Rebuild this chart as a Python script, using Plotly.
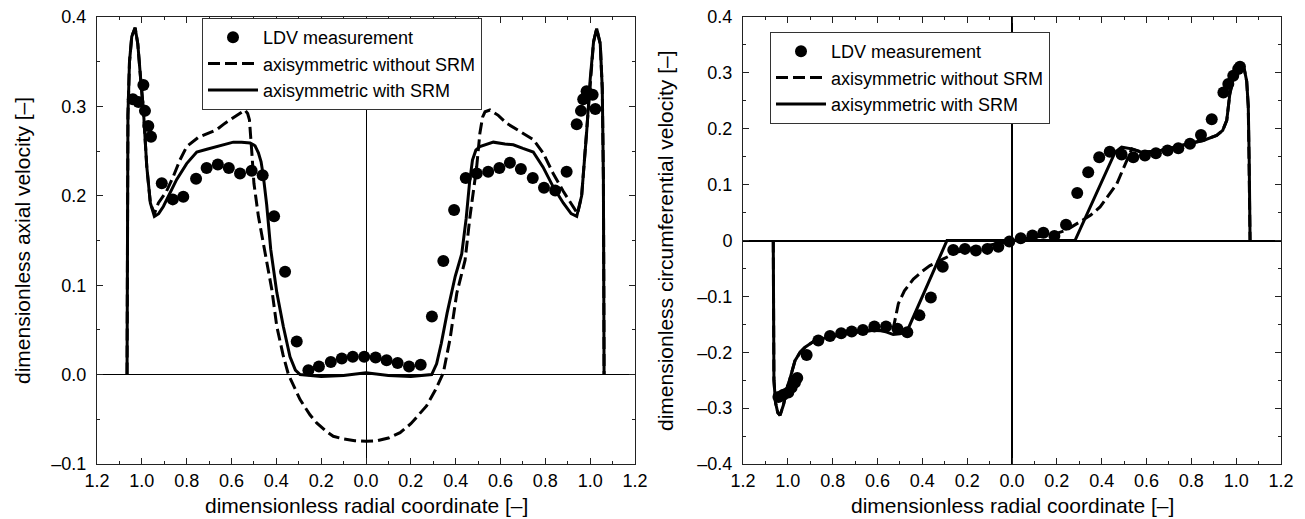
import plotly.graph_objects as go

# ---------------- Left panel: axial velocity ----------------
ax_ldv_r = [-1.040, -1.015, -0.993, -0.986, -0.971, -0.959, -0.911, -0.862, -0.815, -0.758,
            -0.711, -0.661, -0.612, -0.562, -0.510, -0.461, -0.410, -0.361, -0.309, -0.257,
            -0.210, -0.157, -0.108, -0.059, -0.008, 0.043, 0.092, 0.141, 0.192, 0.244,
            0.294, 0.345, 0.393, 0.445, 0.494, 0.545, 0.595, 0.642, 0.691, 0.744,
            0.794, 0.844, 0.895, 0.940, 0.959, 0.969, 0.984, 1.011, 1.023]
ax_ldv_v = [0.308, 0.305, 0.324, 0.295, 0.278, 0.266, 0.214, 0.196, 0.199, 0.219,
            0.231, 0.235, 0.231, 0.225, 0.228, 0.223, 0.177, 0.115, 0.037, 0.005,
            0.009, 0.014, 0.018, 0.020, 0.020, 0.019, 0.016, 0.013, 0.009, 0.011,
            0.065, 0.127, 0.184, 0.220, 0.225, 0.227, 0.231, 0.237, 0.230, 0.220,
            0.209, 0.206, 0.227, 0.280, 0.295, 0.308, 0.317, 0.313, 0.297]

ax_srm_r = [-1.066, -1.065, -1.062, -1.055, -1.045, -1.030, -1.018, -1.005, -0.993, -0.978,
            -0.962, -0.944, -0.925, -0.904, -0.875, -0.845, -0.800, -0.755, -0.710, -0.666,
            -0.620, -0.592, -0.555, -0.517, -0.495, -0.480, -0.468, -0.458, -0.443, -0.425,
            -0.398, -0.369, -0.339, -0.315, -0.294, -0.200, -0.100, 0.000, 0.100, 0.200,
            0.293, 0.315, 0.336, 0.362, 0.398, 0.427, 0.447, 0.462, 0.475, 0.490,
            0.508, 0.568, 0.620, 0.657, 0.700, 0.746, 0.790, 0.835, 0.880, 0.915,
            0.940, 0.962, 0.984, 1.000, 1.015, 1.029, 1.045, 1.054, 1.059, 1.061, 1.062]
ax_srm_v = [0.000, 0.150, 0.290, 0.350, 0.378, 0.388, 0.370, 0.330, 0.296, 0.233,
            0.192, 0.177, 0.180, 0.188, 0.203, 0.218, 0.236, 0.249, 0.252, 0.255,
            0.258, 0.260, 0.260, 0.259, 0.256, 0.248, 0.238, 0.222, 0.190, 0.140,
            0.092, 0.054, 0.020, 0.005, 0.000, -0.002, -0.001, 0.002, -0.001, -0.002,
            0.000, 0.012, 0.035, 0.069, 0.110, 0.135, 0.175, 0.215, 0.240, 0.251,
            0.255, 0.260, 0.258, 0.257, 0.253, 0.249, 0.232, 0.210, 0.192, 0.180,
            0.177, 0.200, 0.270, 0.330, 0.372, 0.387, 0.370, 0.320, 0.220, 0.100, 0.000]

ax_nosrm_r = [-1.066, -1.065, -1.062, -1.055, -1.045, -1.030, -1.018, -1.005, -0.993, -0.978,
              -0.962, -0.944, -0.926, -0.890, -0.859, -0.830, -0.800, -0.750, -0.700, -0.666,
              -0.630, -0.592, -0.560, -0.540, -0.528, -0.520, -0.510, -0.500, -0.480, -0.450,
              -0.420, -0.398, -0.370, -0.346, -0.320, -0.294, -0.250, -0.220, -0.180, -0.146,
              -0.100, -0.050, 0.000, 0.050, 0.100, 0.152, 0.200, 0.240, 0.270, 0.310,
              0.345, 0.375, 0.405, 0.442, 0.464, 0.494, 0.508, 0.520, 0.531, 0.553,
              0.590, 0.628, 0.680, 0.746, 0.790, 0.835, 0.880, 0.925, 0.944, 0.962,
              0.984, 1.000, 1.015, 1.029, 1.045, 1.054, 1.059, 1.061, 1.062]
ax_nosrm_v = [0.000, 0.150, 0.290, 0.350, 0.378, 0.388, 0.370, 0.330, 0.296, 0.233,
              0.192, 0.180, 0.192, 0.205, 0.222, 0.240, 0.255, 0.265, 0.270, 0.274,
              0.281, 0.287, 0.292, 0.296, 0.292, 0.285, 0.251, 0.214, 0.177, 0.136,
              0.095, 0.054, 0.022, 0.000, -0.015, -0.028, -0.045, -0.054, -0.063, -0.069,
              -0.072, -0.074, -0.0745, -0.074, -0.071, -0.065, -0.055, -0.043, -0.035, -0.017,
              0.002, 0.040, 0.091, 0.128, 0.177, 0.233, 0.270, 0.288, 0.294, 0.296,
              0.290, 0.281, 0.273, 0.263, 0.248, 0.225, 0.205, 0.188, 0.180, 0.200,
              0.270, 0.330, 0.372, 0.387, 0.370, 0.320, 0.220, 0.100, 0.000]

# ---------------- Right panel: circumferential velocity ----------------
ci_ldv_r = [-1.042, -1.020, -0.998, -0.983, -0.968, -0.958, -0.916, -0.864, -0.812, -0.762,
            -0.715, -0.665, -0.614, -0.562, -0.511, -0.467, -0.413, -0.362, -0.309, -0.262,
            -0.210, -0.161, -0.110, -0.061, -0.012, 0.039, 0.091, 0.140, 0.189, 0.241,
            0.291, 0.340, 0.389, 0.436, 0.489, 0.541, 0.593, 0.642, 0.694, 0.742,
            0.794, 0.843, 0.891, 0.943, 0.965, 0.987, 1.009, 1.017]
ci_ldv_v = [-0.280, -0.276, -0.272, -0.263, -0.254, -0.246, -0.205, -0.179, -0.171, -0.166,
            -0.163, -0.160, -0.154, -0.154, -0.158, -0.164, -0.134, -0.102, -0.047, -0.017,
            -0.015, -0.018, -0.015, -0.011, -0.002, 0.004, 0.009, 0.014, 0.008, 0.028,
            0.085, 0.122, 0.149, 0.159, 0.154, 0.149, 0.152, 0.156, 0.161, 0.165,
            0.173, 0.189, 0.217, 0.265, 0.280, 0.295, 0.307, 0.311]

ci_srm_r = [-1.065, -1.064, -1.062, -1.055, -1.045, -1.035, -1.020, -1.005, -0.985, -0.968,
            -0.945, -0.923, -0.886, -0.849, -0.800, -0.745, -0.700, -0.660, -0.619, -0.585,
            -0.559, -0.530, -0.500, -0.470, -0.290, 0.281, 0.460, 0.489, 0.534, 0.578,
            0.650, 0.727, 0.800, 0.853, 0.913, 0.940, 0.958, 0.972, 0.990, 1.010,
            1.024, 1.037, 1.047, 1.054, 1.058, 1.062]
ci_srm_v = [0.000, -0.150, -0.250, -0.290, -0.308, -0.313, -0.295, -0.268, -0.240, -0.215,
            -0.200, -0.191, -0.181, -0.176, -0.172, -0.167, -0.165, -0.162, -0.161, -0.161,
            -0.164, -0.168, -0.167, -0.164, 0.000, 0.000, 0.158, 0.167, 0.164, 0.158,
            0.160, 0.167, 0.175, 0.179, 0.188, 0.197, 0.215, 0.263, 0.295, 0.316,
            0.316, 0.305, 0.285, 0.240, 0.150, 0.000]

ci_nosrm_r = [-1.065, -1.064, -1.062, -1.055, -1.045, -1.035, -1.020, -1.005, -0.985, -0.968,
              -0.945, -0.923, -0.886, -0.849, -0.800, -0.745, -0.700, -0.660, -0.619, -0.585,
              -0.559, -0.530, -0.507, -0.480, -0.440, -0.400, -0.366, -0.306, -0.247, -0.200,
              -0.150, -0.100, -0.050, 0.000, 0.050, 0.100, 0.170, 0.240, 0.303, 0.350,
              0.393, 0.430, 0.467, 0.512, 0.534, 0.578, 0.650, 0.727, 0.800, 0.853,
              0.913, 0.940, 0.958, 0.972, 0.990, 1.010, 1.024, 1.037, 1.047, 1.054,
              1.058, 1.062]
ci_nosrm_v = [0.000, -0.150, -0.250, -0.290, -0.308, -0.313, -0.295, -0.268, -0.240, -0.215,
              -0.200, -0.191, -0.181, -0.176, -0.172, -0.167, -0.165, -0.162, -0.161, -0.161,
              -0.162, -0.158, -0.113, -0.090, -0.069, -0.055, -0.045, -0.033, -0.021, -0.016,
              -0.012, -0.008, -0.004, 0.000, 0.003, 0.006, 0.009, 0.018, 0.033, 0.045,
              0.060, 0.080, 0.101, 0.143, 0.164, 0.158, 0.160, 0.167, 0.175, 0.179,
              0.188, 0.197, 0.215, 0.263, 0.295, 0.316, 0.316, 0.305, 0.285, 0.240,
              0.150, 0.000]

# ---------------- Tick labels ----------------
x_tickvals = [-1.2, -1.0, -0.8, -0.6, -0.4, -0.2, 0.0, 0.2, 0.4, 0.6, 0.8, 1.0, 1.2]
x_ticktext = ["1.2", "1.0", "0.8", "0.6", "0.4", "0.2", "0.0", "0.2", "0.4", "0.6", "0.8", "1.0", "1.2"]
y1_tickvals = [-0.1, 0.0, 0.1, 0.2, 0.3, 0.4]
y1_ticktext = ["\u20130.1", "0.0", "0.1", "0.2", "0.3", "0.4"]
y2_tickvals = [-0.4, -0.3, -0.2, -0.1, 0.0, 0.1, 0.2, 0.3, 0.4]
y2_ticktext = ["\u20130.4", "\u20130.3", "\u20130.2", "\u20130.1", "0", "0.1", "0.2", "0.3", "0.4"]

names = ["LDV measurement", "axisymmetric without SRM", "axisymmetric with SRM"]

W, H = 1305, 519
FONT = "Liberation Sans, Arial, sans-serif"
LW = 3
DASH = "12px,5px"

fig = go.Figure()

# left panel traces
fig.add_trace(go.Scatter(x=ax_ldv_r, y=ax_ldv_v, mode="markers", name=names[0],
                         marker=dict(color="black", size=12), xaxis="x", yaxis="y", legend="legend"))
fig.add_trace(go.Scatter(x=ax_nosrm_r, y=ax_nosrm_v, mode="lines", name=names[1],
                         line=dict(color="black", width=LW, dash=DASH), xaxis="x", yaxis="y", legend="legend"))
fig.add_trace(go.Scatter(x=ax_srm_r, y=ax_srm_v, mode="lines", name=names[2],
                         line=dict(color="black", width=LW), xaxis="x", yaxis="y", legend="legend"))
# right panel traces
fig.add_trace(go.Scatter(x=ci_ldv_r, y=ci_ldv_v, mode="markers", name=names[0],
                         marker=dict(color="black", size=12), xaxis="x2", yaxis="y2", legend="legend2"))
fig.add_trace(go.Scatter(x=ci_nosrm_r, y=ci_nosrm_v, mode="lines", name=names[1],
                         line=dict(color="black", width=LW, dash=DASH), xaxis="x2", yaxis="y2", legend="legend2"))
fig.add_trace(go.Scatter(x=ci_srm_r, y=ci_srm_v, mode="lines", name=names[2],
                         line=dict(color="black", width=LW), xaxis="x2", yaxis="y2", legend="legend2"))

ydom = [1 - 464 / H, 1 - 17 / H]
common = dict(showline=True, linecolor="#222", linewidth=1, mirror="ticks", ticks="inside",
              ticklen=6, tickwidth=1, tickcolor="#222", showgrid=False, automargin=False,
              zeroline=True, zerolinecolor="black",
              tickfont=dict(family=FONT, size=18, color="black"))

legend_common = dict(xanchor="left", yanchor="top", bgcolor="white", bordercolor="#333",
                     borderwidth=1, font=dict(family=FONT, size=18, color="black"),
                     itemwidth=50, tracegroupgap=0)

fig.update_layout(
    width=W, height=H,
    margin=dict(l=0, r=0, t=0, b=0, autoexpand=False),
    paper_bgcolor="white", plot_bgcolor="white",
    font=dict(family=FONT, color="black"),
    xaxis=dict(domain=[97 / W, 635 / W], range=[-1.2, 1.2], tickmode="array",
               tickvals=x_tickvals, ticktext=x_ticktext, anchor="y", zerolinewidth=1,
               minor=dict(ticks="inside", ticklen=3, dtick=0.1, tick0=0, tickcolor="#222"), **common),
    yaxis=dict(domain=ydom, range=[-0.1, 0.4], tickmode="array", tickvals=y1_tickvals,
               ticktext=y1_ticktext, anchor="x", ticklabelstandoff=6, zerolinewidth=1,
               minor=dict(ticks="inside", ticklen=3, dtick=0.05, tick0=0, tickcolor="#222"), **common),
    xaxis2=dict(domain=[743 / W, 1281 / W], range=[-1.2, 1.2], tickmode="array",
                tickvals=x_tickvals, ticktext=x_ticktext, anchor="y2", zerolinewidth=1.5,
                minor=dict(ticks="inside", ticklen=3, dtick=0.1, tick0=0, tickcolor="#222"), **common),
    yaxis2=dict(domain=ydom, range=[-0.4, 0.4], tickmode="array", tickvals=y2_tickvals,
                ticktext=y2_ticktext, anchor="x2", ticklabelstandoff=6, zerolinewidth=2,
                minor=dict(ticks="inside", ticklen=3, dtick=0.05, tick0=0, tickcolor="#222"), **common),
    legend=dict(x=202 / W, y=1 - 18 / H, **legend_common),
    legend2=dict(x=770 / W, y=1 - 32 / H, **legend_common),
    annotations=[
        dict(text="dimensionless axial velocity [\u2013]", xref="paper", yref="paper",
             x=22 / W, y=1 - 241 / H, textangle=-90, showarrow=False,
             font=dict(family=FONT, size=21, color="black"), xanchor="center", yanchor="middle"),
        dict(text="dimensionless circumferential velocity [\u2013]", xref="paper", yref="paper",
             x=665 / W, y=1 - 241 / H, textangle=-90, showarrow=False,
             font=dict(family=FONT, size=21, color="black"), xanchor="center", yanchor="middle"),
        dict(text="dimensionless radial coordinate [\u2013]", xref="paper", yref="paper",
             x=366 / W, y=1 - 505 / H, showarrow=False,
             font=dict(family=FONT, size=21, color="black"), xanchor="center", yanchor="middle"),
        dict(text="dimensionless radial coordinate [\u2013]", xref="paper", yref="paper",
             x=1012 / W, y=1 - 505 / H, showarrow=False,
             font=dict(family=FONT, size=21, color="black"), xanchor="center", yanchor="middle"),
    ],
)

fig.write_html("out.html")
